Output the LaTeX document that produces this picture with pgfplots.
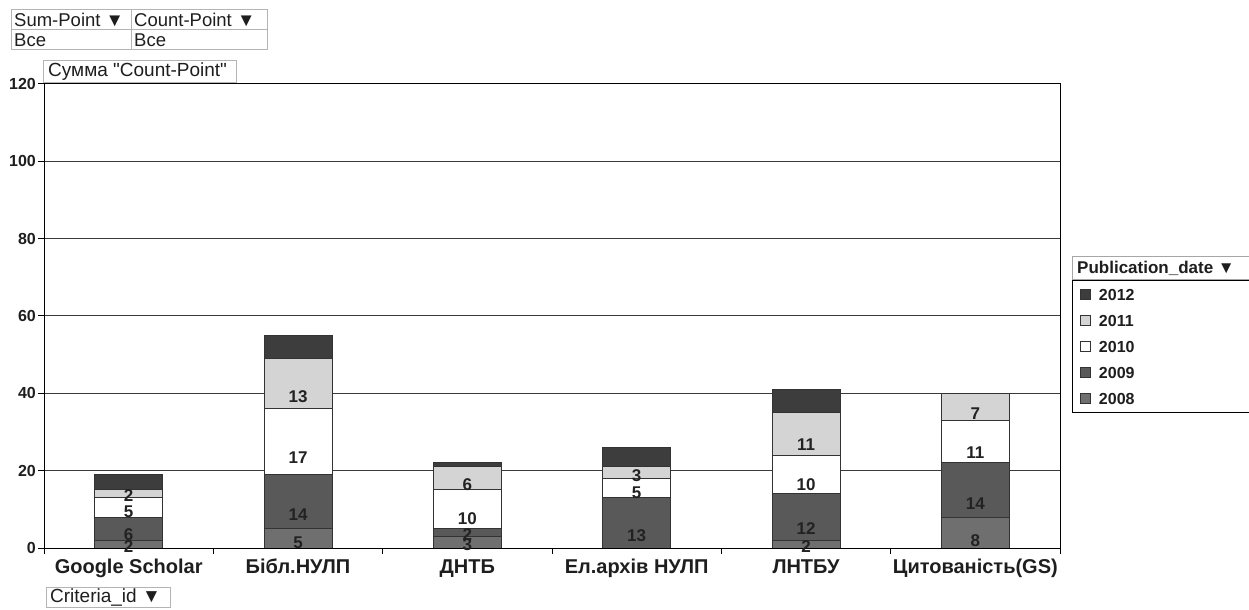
\documentclass[border=0pt]{standalone}
\usepackage{pgfplots}
\pgfplotsset{compat=1.18}
\usepackage{pgfplotstable}
\usepackage{fontspec}
\setmainfont{Liberation Sans}
\newfontfamily\qfont{Liberation Sans}

\definecolor{c2012}{HTML}{3D3D3D}
\definecolor{c2011}{HTML}{D4D4D4}
\definecolor{c2010}{HTML}{FFFFFF}
\definecolor{c2009}{HTML}{595959}
\definecolor{c2008}{HTML}{6F6F6F}
\definecolor{edgec}{HTML}{333333}
\definecolor{gridc}{HTML}{3A3A3A}
\definecolor{boxc}{HTML}{B4B4B4}
\definecolor{labc}{HTML}{222222}
\definecolor{txtc}{HTML}{1E1E1E}

% values per year, one column each (0 = no segment)
\pgfplotstableread{
x g2008 g2009 g2010 g2011 g2012
0 2 6 5 2 4
1 5 14 17 13 6
2 3 2 10 6 1
3 0 13 5 3 5
4 2 12 10 11 6
5 8 14 11 7 0
}\counts

% shift the label from the top to the middle of its segment
\pgfplotsset{
  mid offset/.code={%
    \pgfkeys{/pgf/fpu=true,/pgf/fpu/output format=fixed}%
    \pgfmathsetmacro\midoff{\pgfplotspointmeta*0.966667}%
    \pgfkeys{/pgf/fpu=false}},
  seglabel/.style={
    nodes near coords={\pgfmathfloatifflags{\pgfplotspointmeta}{0}{}{\pgfmathprintnumber{\pgfplotspointmeta}}},
    every node near coord/.append style={anchor=center, /pgfplots/mid offset,
      yshift=-\midoff bp, font=\fontsize{17bp}{19bp}\bfseries\selectfont,
      text=labc, inner sep=0pt}},
}

\begin{document}
\begin{tikzpicture}

\begin{axis}[
  at={(44bp,62bp)}, anchor=south west,
  scale only axis, width=1016bp, height=464bp,
  ybar stacked, bar width=68bp,
  xmin=-0.5, xmax=5.5, ymin=0, ymax=120,
  ytick={0,20,...,120},
  ymajorgrids, grid style={gridc, line width=1bp},
  xtick={-0.5,0.5,...,5.5}, xticklabels={},
  extra x ticks={0,1,2,3,4,5},
  extra x tick labels={Google Scholar, Бібл.НУЛП, ДНТБ, Ел.архів НУЛП, ЛНТБУ, Цитованість(GS)},
  extra x tick style={major tick length=0pt, grid=none,
    tick label style={font=\fontsize{20bp}{22bp}\bfseries\selectfont, text=txtc,
      text height=14.5bp, text depth=4bp, yshift=-7bp}},
  xtick pos=bottom, ytick pos=left, tick align=outside,
  major tick length=6bp,
  tick style={black, line width=1bp},
  axis line style={black, line width=1bp},
  yticklabel style={font=\fontsize{16bp}{18bp}\bfseries\selectfont, text=txtc, inner xsep=2bp},
  /pgf/number format/assume math mode=true,
  every axis plot/.append style={draw=edgec, line width=1bp},
  legend image code/.code={\draw[#1, line width=1bp] (0bp,-5bp) rectangle (10bp,5bp);},
  reverse legend,
  legend style={at={(1.0118,0.5776)}, anchor=north west, draw=black, line width=1bp,
    inner xsep=7.5bp, inner ysep=1bp, row sep=0pt, column sep=8bp,
    font=\fontsize{16bp}{18bp}\bfseries\selectfont,
    nodes={inner xsep=0pt, inner ysep=0pt, text height=11.5bp, text depth=0pt,
      minimum height=26bp, text width=170bp, align=left, text=txtc}},
]
\addplot[fill=c2008, seglabel] table[x=x, y=g2008, meta=g2008] {\counts};
\addplot[fill=c2009, seglabel] table[x=x, y=g2009, meta=g2009] {\counts};
\addplot[fill=c2010, seglabel] table[x=x, y=g2010, meta=g2010] {\counts};
\addplot[fill=c2011, seglabel] table[x=x, y=g2011, meta=g2011] {\counts};
\addplot[fill=c2012] table[x=x, y=g2012] {\counts};
\legend{2008, 2009, 2010, 2011, 2012}
\end{axis}

% page field boxes
\draw[boxc, line width=1bp] (11bp,600bp) rectangle (131bp,580bp) (131bp,600bp) rectangle (267bp,580bp)
  (11bp,580bp) rectangle (131bp,560bp) (131bp,580bp) rectangle (267bp,560bp);
\begin{scope}[every node/.style={anchor=west, inner sep=0pt, text=txtc,
  font=\fontsize{18.5bp}{20bp}\selectfont}]
  \node at (14bp,590bp) {Sum-Point ▼};
  \node at (134bp,590bp) {Count-Point ▼};
  \node at (14bp,570bp) {Все};
  \node at (134bp,570bp) {Все};
  \draw[boxc, line width=1bp, fill=white] (43bp,549bp) rectangle (236bp,527bp);
  \node[font=\fontsize{19bp}{21bp}\qfont] at (48bp,538bp) {Сумма "Count-Point"};
  \draw[boxc, line width=1bp] (46bp,22bp) rectangle (170bp,2bp);
  \node[font=\fontsize{19bp}{21bp}\selectfont] at (50bp,12bp) {Criteria\_id ▼};
  \draw[gray!70, line width=1bp, fill=white] (1072bp,353bp) rectangle (1262bp,330bp);
  \node[font=\fontsize{17bp}{19bp}\bfseries\selectfont] at (1077bp,341.5bp) {Publication\_date ▼};
\end{scope}

\pgfresetboundingbox
\useasboundingbox (0bp,0bp) rectangle (1249bp,610bp);
\end{tikzpicture}
\end{document}
